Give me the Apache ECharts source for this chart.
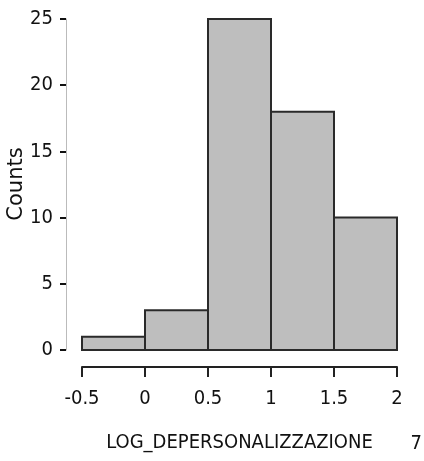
<!DOCTYPE html>
<html>
<head>
<meta charset="utf-8">
<script src="https://cdn.jsdelivr.net/npm/echarts@6/dist/echarts.min.js"></script>
<style>
    html, body { margin: 0; padding: 0; background: #fff; }
    #chart { width: 424px; height: 461px; }
</style>
</head>
<body>
<div id="chart"></div>
<script>
    // istogramma LOG_DEPERSONALIZZAZIONE
    var binStart = [-0.5, 0, 0.5, 1, 1.5];
    var binEnd = [0, 0.5, 1, 1.5, 2];
    var counts = [1, 3, 25, 18, 10];

    var font = '"DejaVu Sans Condensed", "Liberation Sans Narrow", "DejaVu Sans", sans-serif';

    var histData = binStart.map(function(s, i) {
        return [s, binEnd[i], counts[i]];
    });

    var chart = echarts.init(document.getElementById('chart'));
    var option = {
        animation: false,
        grid: {
            left: 82,
            right: 27,
            top: 19,
            bottom: 111,
            containLabel: false,
            outerBoundsMode: 'none'
        },
        xAxis: {
            type: 'value',
            min: -0.5,
            max: 2,
            interval: 0.5,
            offset: 17,
            splitLine: { show: false },
            axisLine: { show: true, onZero: false, lineStyle: { color: '#222', width: 2 } },
            axisTick: { show: true, length: 10, lineStyle: { color: '#222', width: 2 } },
            axisLabel: {
                color: '#111',
                fontFamily: font,
                fontSize: 20,
                margin: 22,
                formatter: function(v) { return String(v); }
            },
            name: 'LOG_DEPERSONALIZZAZIONE',
            nameLocation: 'middle',
            nameGap: 66,
            nameTextStyle: { color: '#111', fontFamily: font, fontSize: 20 }
        },
        yAxis: {
            type: 'value',
            min: 0,
            max: 25,
            interval: 5,
            offset: 16,
            splitLine: { show: false },
            axisLine: { show: true, onZero: false, lineStyle: { color: '#bbb', width: 1 } },
            axisTick: { show: true, length: 6, lineStyle: { color: '#111', width: 2 } },
            axisLabel: {
                color: '#111',
                fontFamily: font,
                fontSize: 20,
                margin: 13
            }
        },
        graphic: [{
            type: 'text',
            x: 17,
            y: 184,
            rotation: Math.PI / 2,
            style: {
                text: 'Counts',
                fill: '#111',
                font: '21px "DejaVu Sans", sans-serif',
                align: 'center',
                verticalAlign: 'middle'
            }
        }, {
            type: 'text',
            right: 2,
            top: 434,
            style: { text: '7', fill: '#111', font: '20px ' + font }
        }],
        series: [{
            type: 'custom',
            data: histData,
            encode: { x: [0, 1], y: 2 },
            renderItem: function(params, api) {
                var p0 = api.coord([api.value(0), api.value(2)]);
                var p1 = api.coord([api.value(1), 0]);
                return {
                    type: 'rect',
                    shape: { x: p0[0], y: p0[1], width: p1[0] - p0[0], height: p1[1] - p0[1] },
                    style: { fill: '#bebebe', stroke: '#2a2a2a', lineWidth: 2 }
                };
            }
        }]
    };
    chart.setOption(option);
</script>
</body>
</html>
